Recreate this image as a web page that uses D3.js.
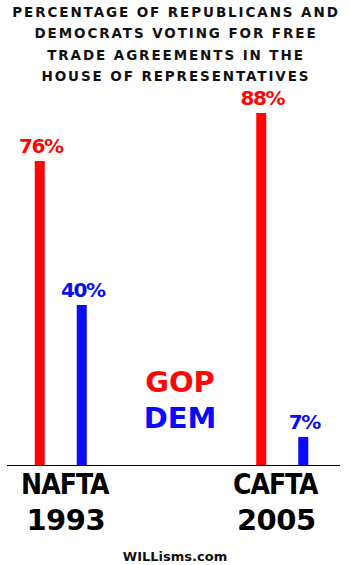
<!DOCTYPE html>
<html>
<head>
<meta charset="utf-8">
<script src="https://cdn.jsdelivr.net/npm/d3@7"></script>
<style>
  body { margin: 0; background: #fff; }
  svg { display: block; }
</style>
</head>
<body>
<svg id="chart"></svg>
<script>
"use strict";

// /////// DATA
const titleLines = [
  "PERCENTAGE OF REPUBLICANS AND",
  "DEMOCRATS VOTING FOR FREE",
  "TRADE AGREEMENTS IN THE",
  "HOUSE OF REPRESENTATIVES",
];
const agreements = ["NAFTA", "CAFTA"];
const years = ["1993", "2005"];
const parties = ["GOP", "DEM"];
const gopValues = [76, 88];
const demValues = [40, 7];

const width = 350;
const height = 565;
const colors = { GOP: "#ff0505", DEM: "#0a0aff" };

const svg = d3.select("#chart").attr("width", width).attr("height", height);

// Title
svg
  .append("g")
  .selectAll("text")
  .data(titleLines)
  .join("text")
  .attr("x", width / 2 + 1)
  .attr("y", (d, i) => 17 + i * 21.3)
  .attr("text-anchor", "middle")
  .style("font-family", "DejaVu Sans")
  .style("font-weight", "bold")
  .style("font-size", "13.5px")
  .style("letter-spacing", "1.9px")
  .attr("fill", "#111")
  .text((d) => d);

// Scales
const x = d3.scaleBand().domain(agreements).range([-50, 393]).padding(0);
const xSub = d3.scaleBand().domain(parties).range([-21, 21]).paddingInner(1);
const y = d3.scaleLinear().domain([0, 100]).range([465, 65]);

const data = agreements.map((a, i) => ({
  agreement: a,
  year: years[i],
  values: [
    { party: "GOP", value: gopValues[i] },
    { party: "DEM", value: demValues[i] },
  ],
}));

const barW = 10;
const center = (a) => x(a) + x.bandwidth() / 2;
const subX = (p) => xSub(p) + xSub.bandwidth() / 2;

const group = svg
  .selectAll(".group")
  .data(data)
  .join("g")
  .attr("class", "group")
  .attr("transform", (d) => `translate(${center(d.agreement)},0)`);

// Bars
group
  .selectAll("rect")
  .data((d) => d.values)
  .join("rect")
  .attr("x", (d) => subX(d.party) - barW / 2)
  .attr("y", (d) => y(d.value))
  .attr("width", barW)
  .attr("height", (d) => y(0) - y(d.value))
  .attr("fill", (d) => colors[d.party]);

// Value labels
group
  .selectAll(".val")
  .data((d) => d.values)
  .join("text")
  .attr("class", "val")
  .attr("x", (d) => subX(d.party) + 1)
  .attr("y", (d) => y(d.value) - 8)
  .attr("text-anchor", "middle")
  .style("font-family", "DejaVu Sans")
  .style("font-weight", "bold")
  .style("font-size", "20px")
  .style("letter-spacing", "-1.5px")
  .attr("fill", (d) => colors[d.party])
  .text((d) => `${d.value}%`);

// Baseline
svg
  .append("line")
  .attr("x1", 7)
  .attr("x2", 340)
  .attr("y1", y(0) + 0.5)
  .attr("y2", y(0) + 0.5)
  .attr("stroke", "#000")
  .attr("stroke-width", 1);

// Category labels
group
  .append("text")
  .attr("x", (d, i) => (i === 0 ? 4 : -7))
  .attr("y", 494)
  .attr("text-anchor", "middle")
  .style("font-family", "DejaVu Sans Condensed, DejaVu Sans")
  .style("font-weight", "bold")
  .style("font-size", "28px")
  .style("letter-spacing", "-1px")
  .attr("fill", "#000")
  .text((d) => d.agreement);

group
  .append("text")
  .attr("x", (d, i) => (i === 0 ? 5 : -6))
  .attr("y", 530)
  .attr("text-anchor", "middle")
  .style("font-family", "DejaVu Sans")
  .style("font-weight", "bold")
  .style("font-size", "29px")
  .style("letter-spacing", "-0.5px")
  .attr("fill", "#000")
  .text((d) => d.year);

// Legend
svg
  .append("g")
  .selectAll("text")
  .data(parties)
  .join("text")
  .attr("x", 180)
  .attr("y", (d, i) => 392 + i * 36)
  .attr("text-anchor", "middle")
  .style("font-family", "DejaVu Sans")
  .style("font-weight", "bold")
  .style("font-size", "29px")
  .attr("fill", (d) => colors[d])
  .text((d) => d);

// Credit
svg
  .append("text")
  .attr("x", 175)
  .attr("y", 561)
  .attr("text-anchor", "middle")
  .style("font-family", "DejaVu Sans")
  .style("font-weight", "bold")
  .style("font-size", "13px")
  .attr("fill", "#111")
  .text("WILLisms.com");
</script>
</body>
</html>
